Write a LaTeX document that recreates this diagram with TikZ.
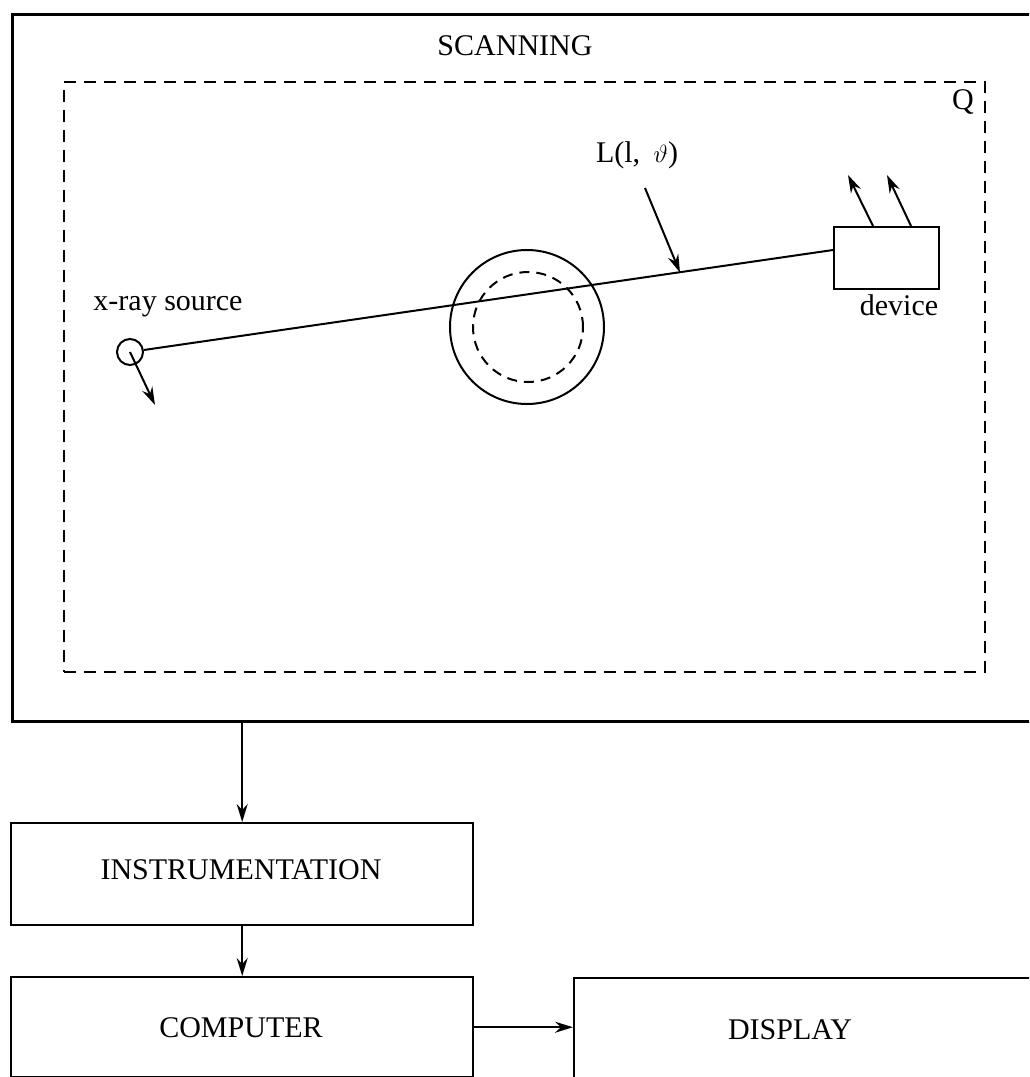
\documentclass[tikz,border=0pt]{standalone}
\usepackage{fontspec}
\setmainfont{Liberation Serif}
\usetikzlibrary{arrows.meta}
\begin{document}
\begin{tikzpicture}[x=1pt,y=-1pt, line width=2pt,
  lbl/.style={font=\fontsize{30}{36}\selectfont, inner sep=0pt},
  blk/.style={draw, line width=2.4pt, inner sep=0pt},
  arr/.style={-{Stealth[length=18pt,width=11pt,inset=6pt]}},
  dsh/.style={dash pattern=on 12pt off 8pt},
  dshc/.style={dash pattern=on 10pt off 7pt}]
\useasboundingbox (0,0) rectangle (1029,1077);
\clip (0,0) rectangle (1029,1077);
% scanning frame
\node[blk, line width=3pt, minimum width=1040pt, minimum height=707pt, anchor=north west] (scan) at (11,13) {};
\node[lbl] (scanl) at (515,46) {SCANNING};
\node[draw, dsh, minimum width=921pt, minimum height=590pt, anchor=north west, inner sep=0pt] (q) at (63,81) {};
\node[lbl] (ql) at (963,102) {Q};
% source
\node[draw, circle, minimum size=26pt, inner sep=0pt] (src) at (130,352) {};
\node[lbl] (srcl) at (168,307) {x-ray source};
\coordinate (srcv) at (155,405);
\draw[arr] (src.center) -- (srcv);
% object
\node[draw, circle, minimum size=154pt, inner sep=0pt] (obj) at (527,327) {};
\node[draw, circle, dshc, minimum size=110pt, inner sep=0pt] (objin) at (528,327) {};
% device
\node[draw, minimum width=105pt, minimum height=62pt, anchor=north west, inner sep=0pt] (dev) at (833,226) {};
\node[lbl] (devl) at (899,305) {device};
\coordinate (hit) at (833,250);
\draw (src) -- (hit);
\coordinate (d1) at (848,175);
\coordinate (d2) at (887,175);
\draw[arr] ([xshift=40pt]dev.north west) -- (d1);
\draw[arr] ([xshift=78pt]dev.north west) -- (d2);
% line label
\node[lbl] (L) at (637,155) {L(l,\hspace{0.45em}$\vartheta$)};
\coordinate (lstart) at (645,188);
\coordinate (lon) at (680,272.5);
\draw[arr] (lstart) -- (lon);
% lower blocks
\node[blk, minimum width=462pt, minimum height=102pt, anchor=north west] (ins) at (10,822) {};
\node[lbl] (insl) at (241,870) {INSTRUMENTATION};
\node[blk, minimum width=462pt, minimum height=100pt, anchor=north west] (comp) at (10,976) {};
\node[lbl] (compl) at (241,1028) {COMPUTER};
\node[blk, minimum width=470pt, minimum height=100pt, anchor=north west] (disp) at (573,977) {};
\node[lbl] (displ) at (790,1030) {DISPLAY};
\draw[arr] (ins.north |- scan.south) -- (ins.north);
\draw[arr] (ins.south) -- (comp.north);
\draw[arr] (comp.east) -- (comp.east -| disp.west);
\end{tikzpicture}
\end{document}
